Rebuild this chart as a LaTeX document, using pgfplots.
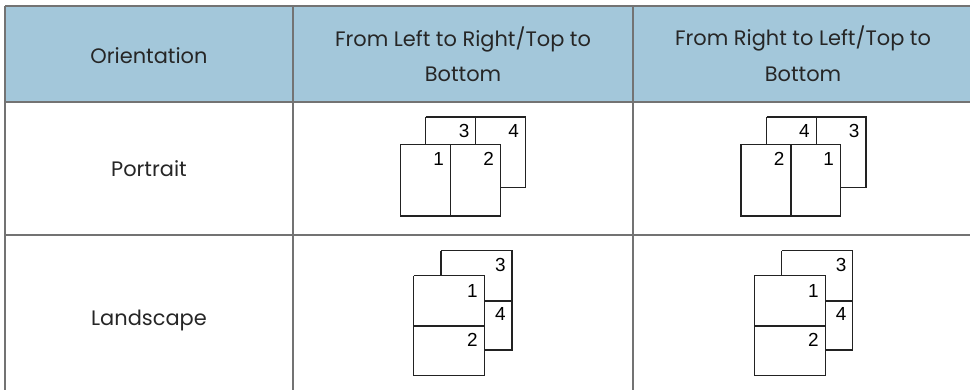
\documentclass[border=0pt]{standalone}
\usepackage{pgfplots}
\pgfplotsset{compat=1.18}
\usepackage{fontspec}
\setmainfont{Poppins}
\newfontfamily\digitfont{Liberation Sans}
\definecolor{headerblue}{HTML}{A3C7DA}
\definecolor{gridgray}{HTML}{737373}
\definecolor{txt}{HTML}{262626}
\definecolor{pageline}{HTML}{222222}
\begin{document}
\begin{tikzpicture}
\begin{axis}[
  hide axis, scale only axis,
  width=970bp, height=390bp,
  xmin=0, xmax=970, ymin=0, ymax=390,
  y dir=reverse,
  every axis plot/.append style={line join=miter},
]
% background
\addplot[fill=white, draw=none] coordinates {(0,0) (970,0) (970,390) (0,390) (0,0)};
% header fill
\addplot[fill=headerblue, draw=none] coordinates {(5,6) (970,6) (970,102) (5,102) (5,6)};
% table rules
\addplot[gridgray, line width=1.3bp] coordinates {(5,6) (970,6)};
\addplot[gridgray, line width=1.3bp] coordinates {(5,102) (970,102)};
\addplot[gridgray, line width=1.3bp] coordinates {(5,235) (970,235)};
\addplot[gridgray, line width=1.3bp] coordinates {(5,6) (5,390)};
\addplot[gridgray, line width=1.3bp] coordinates {(293,6) (293,390)};
\addplot[gridgray, line width=1.3bp] coordinates {(633,6) (633,390)};

% ---- Portrait, left-to-right ----
\addplot[fill=white, draw=pageline, line width=1.1bp] coordinates {(425.7,117) (525.7,117) (525.7,187.7) (425.7,187.7) (425.7,117)};
\addplot[pageline, line width=1.1bp] coordinates {(475.7,117) (475.7,144.3)};
\addplot[fill=white, draw=pageline, line width=1.1bp] coordinates {(400.7,144.3) (500.7,144.3) (500.7,216) (400.7,216) (400.7,144.3)};
\addplot[pageline, line width=1.1bp] coordinates {(450.7,144.3) (450.7,216)};

% ---- Portrait, right-to-left ----
\addplot[fill=white, draw=pageline, line width=1.1bp] coordinates {(766.5,117) (866,117) (866,187.7) (766.5,187.7) (766.5,117)};
\addplot[pageline, line width=1.1bp] coordinates {(816.3,117) (816.3,144.3)};
\addplot[fill=white, draw=pageline, line width=1.1bp] coordinates {(741,144.3) (840.7,144.3) (840.7,216) (741,216) (741,144.3)};
\addplot[pageline, line width=1.1bp] coordinates {(791,144.3) (791,216)};

% ---- Landscape, left ----
\addplot[fill=white, draw=pageline, line width=1.1bp] coordinates {(441,250.7) (512,250.7) (512,350) (441,350) (441,250.7)};
\addplot[pageline, line width=1.1bp] coordinates {(441,301) (512,301)};
\addplot[fill=white, draw=pageline, line width=1.1bp] coordinates {(413.7,275.7) (484.3,275.7) (484.3,375.7) (413.7,375.7) (413.7,275.7)};
\addplot[pageline, line width=1.1bp] coordinates {(413.7,326) (484.3,326)};

% ---- Landscape, right ----
\addplot[fill=white, draw=pageline, line width=1.1bp] coordinates {(781.7,250.7) (852.7,250.7) (852.7,350) (781.7,350) (781.7,250.7)};
\addplot[pageline, line width=1.1bp] coordinates {(781.7,301) (852.7,301)};
\addplot[fill=white, draw=pageline, line width=1.1bp] coordinates {(754.3,275.7) (825.3,275.7) (825.3,375.7) (754.3,375.7) (754.3,275.7)};
\addplot[pageline, line width=1.1bp] coordinates {(754.3,326) (825.3,326)};

% ---- page numbers ----
\begin{scope}[every node/.style={anchor=north east, inner sep=0pt, font=\digitfont\fontsize{19}{19}\selectfont, text=black}]
% portrait left
\node at (axis cs:469.5,124.5) {3};
\node at (axis cs:519.2,124.5) {4};
\node at (axis cs:444.2,152) {1};
\node at (axis cs:494.2,152) {2};
% portrait right
\node at (axis cs:809.8,124.5) {4};
\node at (axis cs:859.5,124.5) {3};
\node at (axis cs:784.5,152) {2};
\node at (axis cs:834.2,152) {1};
% landscape left
\node at (axis cs:505.8,258.2) {3};
\node at (axis cs:477.8,284) {1};
\node at (axis cs:505.8,307) {4};
\node at (axis cs:477.8,333) {2};
% landscape right
\node at (axis cs:846.5,258.2) {3};
\node at (axis cs:818.8,284) {1};
\node at (axis cs:846.5,307) {4};
\node at (axis cs:818.8,333) {2};
\end{scope}

% ---- text ----
\begin{scope}[every node/.style={anchor=base, inner sep=0pt, font=\fontsize{21}{25}\selectfont, text=txt}]
\node at (axis cs:149,63.3) {Orientation};
\node at (axis cs:463,46) {From Left to Right/Top to};
\node at (axis cs:463,81.7) {Bottom};
\node at (axis cs:803,45.5) {From Right to Left/Top to};
\node at (axis cs:803,81.7) {Bottom};
\node at (axis cs:149,176.7) {Portrait};
\node at (axis cs:149,325) {Landscape};
\end{scope}
\end{axis}
\end{tikzpicture}
\end{document}
